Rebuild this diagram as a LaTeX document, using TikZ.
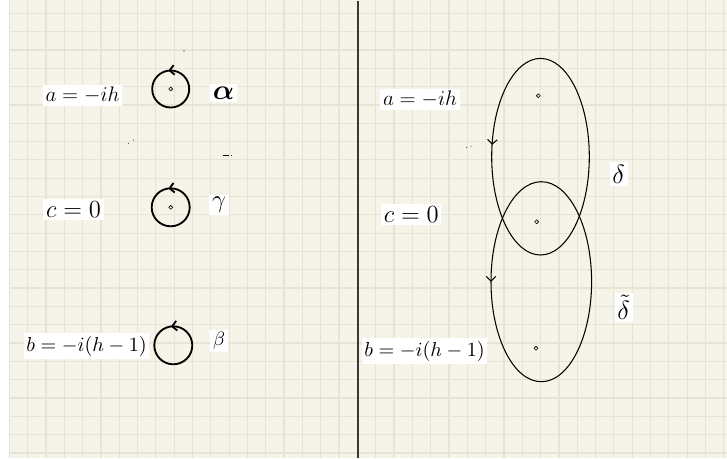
\RequirePackage{fix-cm}
\documentclass[tikz,border=0pt]{standalone}
\usepackage{amsmath}
\usepackage{xcolor}
\usetikzlibrary{positioning,arrows.meta,decorations.markings}
\definecolor{PaperCream}{HTML}{F6F4E8}
\definecolor{GridLine}{HTML}{E7E4D6}
\definecolor{RuleGray}{HTML}{383838}

\begin{document}
\begin{tikzpicture}[x=0.02cm,y=-0.02cm,>=Latex,
    gridline/.style={GridLine,line width=0.7pt},
    tag/.style={fill=white,inner sep=1.5pt},
    eqmid/.style={tag,font=\fontsize{12}{14}\selectfont},
    eqbig/.style={tag,font=\fontsize{14}{16}\selectfont},
    eqsmall/.style={tag,font=\fontsize{11.5}{13}\selectfont},
    pole/.style={circle,draw,inner sep=0pt,minimum size=2.2pt,line width=0.35pt},
    turn/.style={postaction={decorate},decoration={markings,
      mark=at position #1 with {\arrowreversed{Straight Barb[length=2.6pt,width=5.5pt]}}}},
    smallloop/.style={draw,line width=1.05pt,turn=#1},
    bigloop/.style={draw,line width=0.6pt,turn=#1}]
  \useasboundingbox (0,0) rectangle (727,458);
  \fill[white] (0,0) rectangle (727,458);
  \fill[PaperCream] (9,0) rectangle (727,458);
  \foreach \k in {0,...,39}
    \draw[gridline] ({9.3+18.32*\k},0) -- ({9.3+18.32*\k},458);
  \foreach \k in {0,...,24}
    \draw[gridline] (9,{13.3+18.32*\k}) -- (727,{13.3+18.32*\k});
  \draw[RuleGray,line width=1.2pt] (357.7,1) -- (357.7,458);

  % left half
  \node[eqmid] (la) at (82.5,95.5) {$a=-ih$};
  \node[eqbig] (lc) at (73.5,209.5) {$c=0$};
  \node[eqsmall] (lb) at (86.5,346) {$b=-i(h-1)$};
  \node[pole] (pa) at (170.7,89) {};
  \node[pole] (pc) at (170.7,207.3) {};
  \coordinate (pb) at (173.3,345.3);
  \draw[smallloop=0.73] (pa) circle[radius=18.5];
  \draw[smallloop=0.73] (pc) circle[radius=19];
  \draw[smallloop=0.73] (pb) circle[radius=19];
  \node[tag,font=\fontsize{16}{18}\selectfont] (alpha) at (223.5,93) {$\boldsymbol{\alpha}$};
  \node[eqbig] (gamma) at (219,205) {$\gamma$};
  \node[tag,font=\fontsize{11}{13}\selectfont] (beta) at (219,341) {$\beta$};
  \fill (184,51) circle[radius=0.6];
  \fill (128.3,143.3) circle[radius=0.5];
  \fill (133.3,140) circle[radius=0.5];
  \draw[line width=0.4pt] (223,155) -- (229,155);
  \fill (231.5,155.5) circle[radius=0.5];

  % right half
  \node[eqmid] (ra) at (420,99.5) {$a=-ih$};
  \node[eqbig] (rc) at (411.3,214.7) {$c=0$};
  \node[eqsmall] (rb) at (424.5,351) {$b=-i(h-1)$};
  \node[pole] (qa) at (538.3,95.7) {};
  \node[pole] (qc) at (536.7,221.7) {};
  \node[pole] (qb) at (536,348.3) {};
  \draw[bigloop=0.525] (540.5,156.7) ellipse[x radius=48.8,y radius=98.3];
  \draw[bigloop=0.5] (541.3,281.7) ellipse[x radius=50.3,y radius=100];
  \node[tag,font=\fontsize{15}{17}\selectfont] (delta) at (618.7,174) {$\delta$};
  \node[tag,font=\fontsize{15}{17}\selectfont] (tdelta) at (623.7,307.5) {$\tilde{\delta}$};
  \fill (466.7,147.3) circle[radius=0.5];
  \fill (471,146) circle[radius=0.5];
\end{tikzpicture}
\end{document}
